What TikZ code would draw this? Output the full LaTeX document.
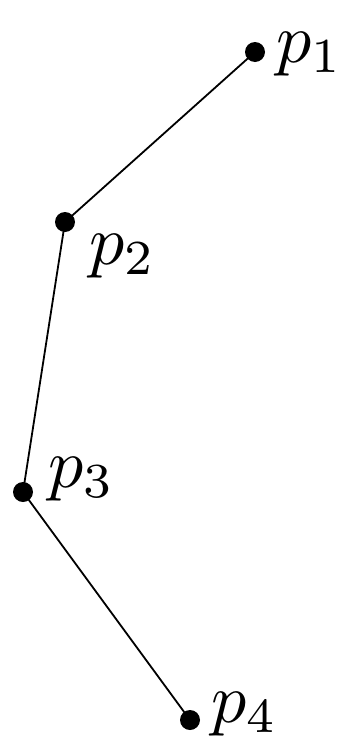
\documentclass[tikz,border=0pt]{standalone}
\begin{document}
\begin{tikzpicture}[x=1pt,y=-1pt,
  pt/.style={circle,fill=black,inner sep=0pt,minimum size=20pt},
  lbl/.style={anchor=base west,inner sep=0pt,scale=7},
  seg/.style={line width=1.8pt}]
\useasboundingbox (0,0) rectangle (353,750);
\coordinate (p1) at (255,52);
\coordinate (p2) at (65,222);
\coordinate (p3) at (23,492);
\coordinate (p4) at (190,720);
\draw[seg] (p1) -- (p2) -- (p3) -- (p4);
\node[pt] (d1) at (p1) {};
\node[pt] (d2) at (p2) {};
\node[pt] (d3) at (p3) {};
\node[pt] (d4) at (p4) {};
\node[lbl] (l1) at (275,62) {$p_1$};
\node[lbl] (l2) at (88,264) {$p_2$};
\node[lbl] (l3) at (47,487) {$p_3$};
\node[lbl] (l4) at (210,722) {$p_4$};
\end{tikzpicture}
\end{document}
